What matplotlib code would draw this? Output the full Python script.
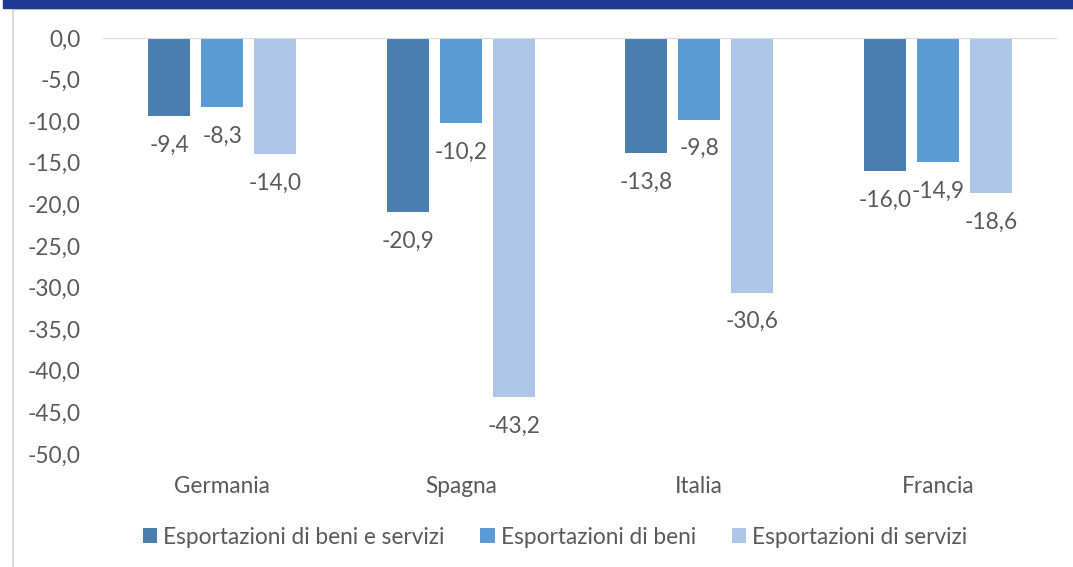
import matplotlib
matplotlib.use("Agg")
import matplotlib.pyplot as plt
from matplotlib.lines import Line2D
from matplotlib.patches import Rectangle
import numpy as np

categories = ["Germania", "Spagna", "Italia", "Francia"]
series_names = ["Esportazioni di beni e servizi", "Esportazioni di beni", "Esportazioni di servizi"]
beni_servizi = [-9.4, -20.9, -13.8, -16.0]
beni = [-8.3, -10.2, -9.8, -14.9]
servizi = [-14.0, -43.2, -30.6, -18.6]
yticks = [0, -5, -10, -15, -20, -25, -30, -35, -40, -45, -50]

colors = ["#4A7EAF", "#5B9BD5", "#ADC6E6"]
text_color = "#595959"
plt.rcParams['font.family'] = ['Lato', 'DejaVu Sans']
fs = 16.3

W, H = 1073, 567
fig = plt.figure(figsize=(W / 100, H / 100), dpi=100)
ax = fig.add_axes([103 / W, 1 - 454 / H, (1057 - 103) / W, (454 - 38) / H])

x = np.arange(len(categories))
offsets = [-0.222, 0.0, 0.222]
width = 0.176
series = [beni_servizi, beni, servizi]
for s, (vals, off, col, name) in enumerate(zip(series, offsets, colors, series_names)):
    ax.bar(x + off, vals, width, color=col, label=name, zorder=2)
    for xi, v in zip(x + off, vals):
        ax.annotate(f"{v:.1f}".replace(".", ","), (xi, v), xytext=(0, -21),
                    textcoords="offset points", ha="center", va="center",
                    fontsize=fs, color=text_color)

ax.axhline(0, color="#D9D9D9", lw=1.5, zorder=3)
ax.set_xlim(-0.5, 3.5)
ax.set_ylim(-50, 0)
ax.set_yticks(yticks)
ax.set_yticklabels([f"{t:.1f}".replace(".", ",") for t in yticks], fontsize=fs, color=text_color)
ax.set_xticks(x)
ax.set_xticklabels(categories, fontsize=fs, color=text_color)
ax.tick_params(axis="y", length=0, pad=16)
ax.tick_params(axis="x", length=0, pad=16)
for sp in ax.spines.values():
    sp.set_visible(False)

fig.legend(loc="center", bbox_to_anchor=(555 / W, 1 - 537 / H), ncol=3,
           frameon=False, fontsize=fs, handlelength=0.62, handleheight=0.62,
           handletextpad=0.27, columnspacing=1.6, labelcolor=text_color)

# header band and frame
fig.patches.append(Rectangle((3 / W, 1 - 8 / H), 1, 8 / H, transform=fig.transFigure,
                             color="#1F3A93", zorder=5))
fig.lines.append(Line2D([13 / W, 13 / W], [0, 1 - 9 / H], transform=fig.transFigure,
                        color="#D9D9D9", lw=1.5))
fig.lines.append(Line2D([13 / W, 1], [1 - 9 / H, 1 - 9 / H], transform=fig.transFigure,
                        color="#D9D9D9", lw=1.5))

fig.savefig("out.png", dpi=100)
